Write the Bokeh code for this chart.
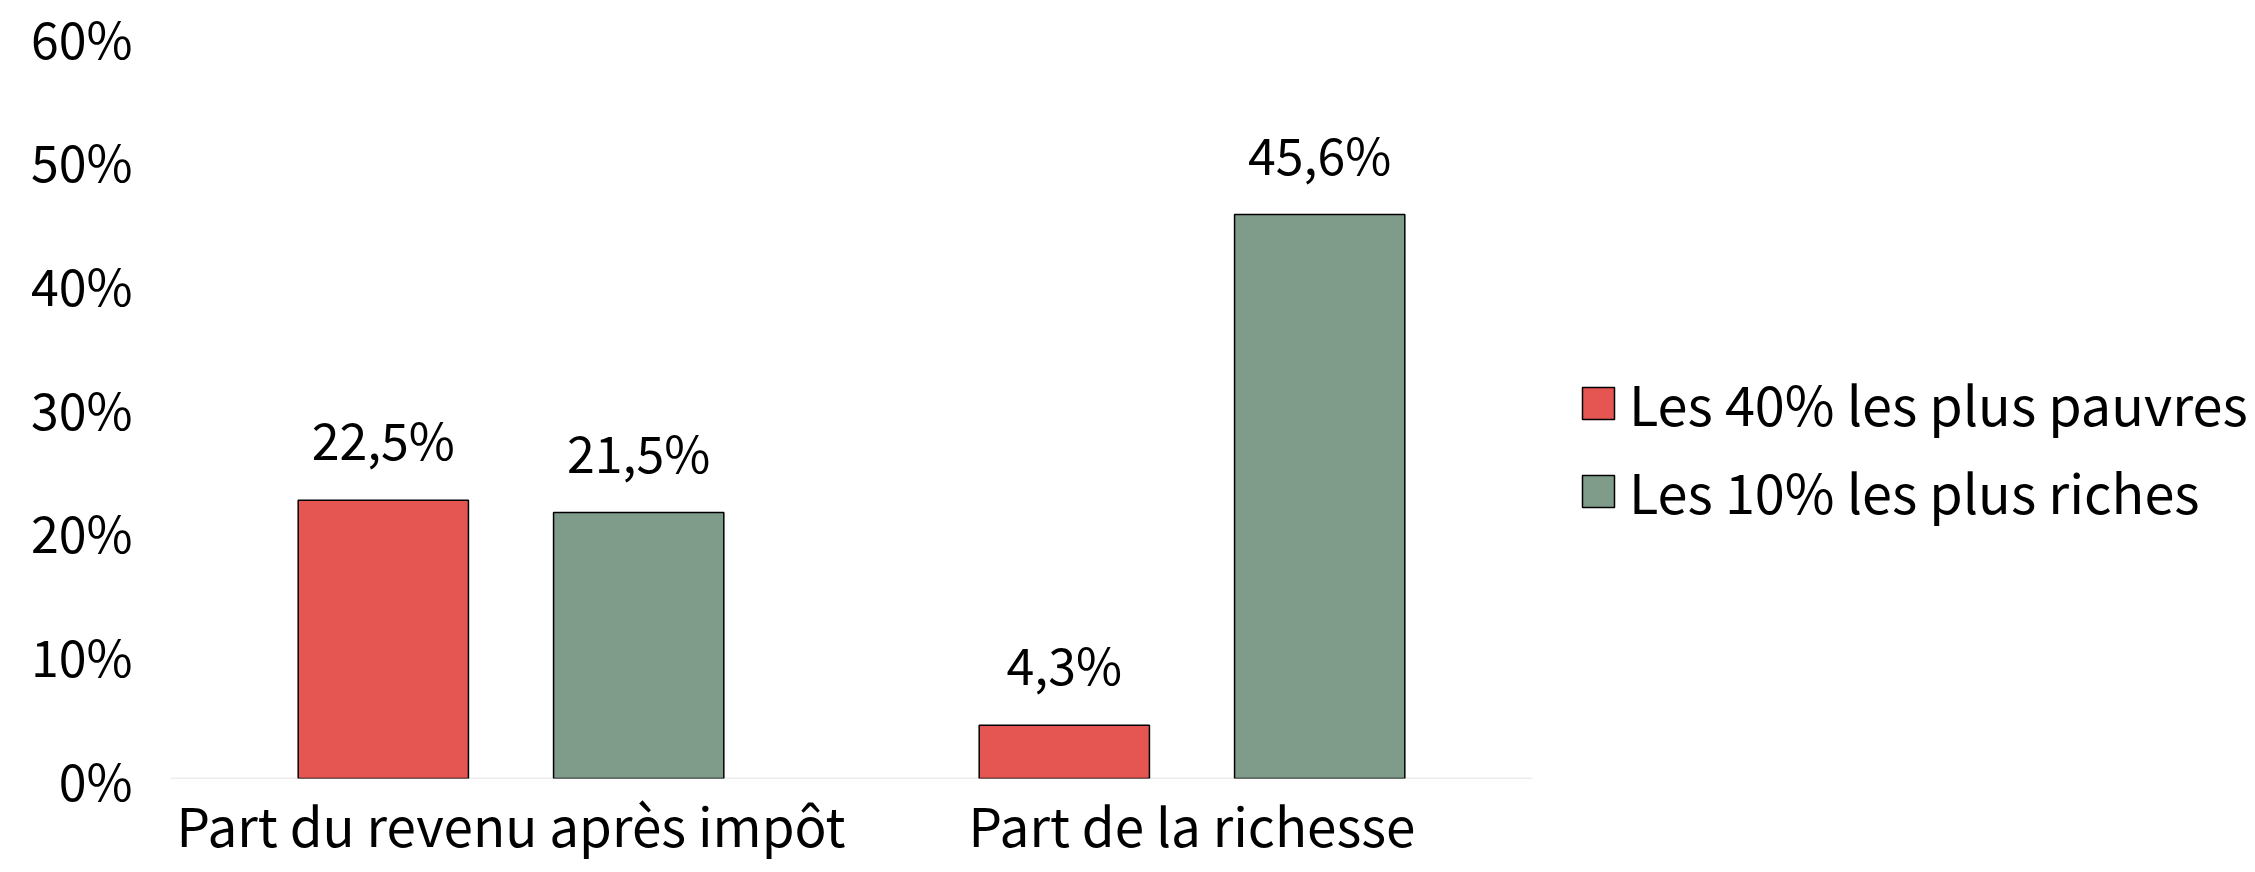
from bokeh.plotting import figure
from bokeh.models import (ColumnDataSource, Range1d, FixedTicker,
                          PrintfTickFormatter, LabelSet, Legend, LegendItem)
from bokeh.core.properties import value
from bokeh.transform import dodge
from bokeh.embed import file_html
from bokeh.resources import INLINE

categories = ["Part du revenu après impôt", "Part de la richesse"]
series_names = ["Les 40% les plus pauvres", "Les 10% les plus riches"]
poorest_40 = [22.5, 4.3]
richest_10 = [21.5, 45.6]
y_ticks = [0, 10, 20, 30, 40, 50, 60]

RED = "#E55652"
GREEN = "#7F9C8A"
AXIS = "#D9D9D9"
FONT = "Noto Sans CJK JP"
FS = "50px"
FS_CAT = "53px"
FS_LEG = "54px"

def fmt(v):
    return ("%.1f%%" % v).replace(".", ",")

n = len(categories)
centers = [i + 0.5 for i in range(n)]          # category slots on the x scale

src = ColumnDataSource(dict(
    x=centers,
    poor=poorest_40,
    rich=richest_10,
    poor_lbl=[fmt(v) for v in poorest_40],
    rich_lbl=[fmt(v) for v in richest_10],
))

W, H = 2247, 864
LEFT, RIGHT = 170, 0
SLOT_PX = 681                                   # pixel width of one category slot
frame_w = W - LEFT - RIGHT

p = figure(x_range=Range1d(0, frame_w / SLOT_PX),
           y_range=Range1d(0, 60),
           width=W, height=H, output_backend="svg", toolbar_location=None,
           min_border_left=LEFT, min_border_right=RIGHT,
           min_border_top=36, min_border_bottom=10)
p.outline_line_color = None
p.xgrid.grid_line_color = None
p.ygrid.grid_line_color = None
p.background_fill_color = "white"
p.border_fill_color = "white"

# category baseline (axis line) spanning the category slots only
p.segment(x0=[0], x1=[n], y0=[0], y1=[0], line_color=AXIS, line_width=1.5)

r1 = p.vbar(x=dodge("x", -0.1875), top="poor", width=0.25,
            source=src, fill_color=RED, line_color="black", line_width=1.5)
r2 = p.vbar(x=dodge("x", 0.1875), top="rich", width=0.25,
            source=src, fill_color=GREEN, line_color="black", line_width=1.5)

for col, off in (("poor", -0.1875), ("rich", 0.1875)):
    lbl = LabelSet(x=dodge("x", off), y=col, text=col + "_lbl",
                   source=src, text_align="center", text_baseline="alphabetic",
                   y_offset=40, text_font=value(FONT), text_font_size=FS,
                   text_color="black")
    p.add_layout(lbl)

# y axis
p.yaxis.ticker = FixedTicker(ticks=y_ticks)
p.yaxis.formatter = PrintfTickFormatter(format="%d%%")
p.yaxis.axis_line_color = None
p.yaxis.major_tick_line_color = None
p.yaxis.minor_tick_line_color = None
p.yaxis.major_tick_out = 0
p.yaxis.major_tick_in = 0
p.yaxis.major_label_text_font = FONT
p.yaxis.major_label_text_font_size = FS
p.yaxis.major_label_text_color = "black"
p.yaxis.major_label_standoff = 38

# x axis (categories)
p.xaxis.ticker = FixedTicker(ticks=centers)
p.xaxis.major_label_overrides = {c: lab for c, lab in zip(centers, categories)}
p.xaxis.axis_line_color = None
p.xaxis.major_tick_line_color = None
p.xaxis.minor_tick_line_color = None
p.xaxis.major_tick_out = 0
p.xaxis.major_tick_in = 0
p.xaxis.major_label_text_font = FONT
p.xaxis.major_label_text_font_size = FS_CAT
p.xaxis.major_label_text_color = "black"
p.xaxis.major_label_standoff = 7

legend = Legend(items=[LegendItem(label=series_names[0], renderers=[r1]),
                       LegendItem(label=series_names[1], renderers=[r2])],
                location=(1408, 248), orientation="vertical",
                border_line_color=None, background_fill_alpha=0,
                label_text_font=FONT, label_text_font_size=FS_LEG,
                label_text_color="black",
                glyph_width=40, glyph_height=40, label_standoff=11,
                spacing=9, padding=0, margin=0)
p.add_layout(legend)

open("out.html", "w").write(file_html(p, INLINE))
